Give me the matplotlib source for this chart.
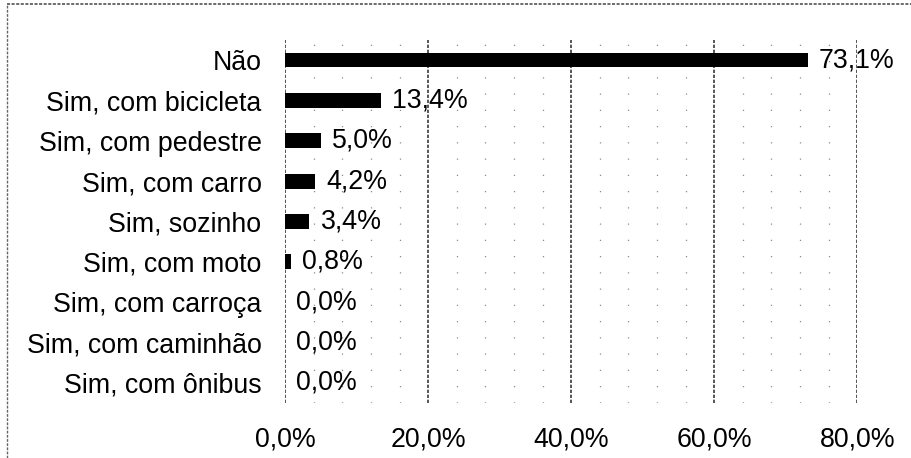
import matplotlib.pyplot as plt
from matplotlib.lines import Line2D

categorias = ['Não', 'Sim, com bicicleta', 'Sim, com pedestre', 'Sim, com carro',
              'Sim, sozinho', 'Sim, com moto', 'Sim, com carroça',
              'Sim, com caminhão', 'Sim, com ônibus']
valores = [73.1, 13.4, 5.0, 4.2, 3.4, 0.8, 0.0, 0.0, 0.0]
ticks_x = [0, 20, 40, 60, 80]

plt.rcParams['font.family'] = ['Liberation Sans', 'DejaVu Sans']

fig = plt.figure(figsize=(9.11, 4.58), dpi=100)
ax = fig.add_axes([0.313, 0.120, 0.628, 0.793])

y = list(range(len(categorias)))
ax.barh(y, valores, height=0.37, color='black', zorder=3)

for yi, v in zip(y, valores):
    ax.annotate(f'{v:.1f}%'.replace('.', ','), (v, yi), xytext=(8, 0),
                textcoords='offset points', ha='left', va='center',
                fontsize=19.3, zorder=4)

ax.set_xlim(0, 80)
ax.set_ylim(len(categorias) - 0.5, -0.5)
ax.set_yticks(y)
ax.set_yticklabels(categorias, fontsize=19.3)
ax.set_xticks(ticks_x)
ax.set_xticklabels([f'{t:.1f}%'.replace('.', ',') for t in ticks_x], fontsize=19.3)
ax.tick_params(axis='both', length=0)
ax.tick_params(axis='y', pad=17)
ax.tick_params(axis='x', pad=17)

for s in ax.spines.values():
    s.set_visible(False)

# linhas de grade principais e secundárias
for t in ticks_x:
    ax.axvline(t, color='#3a3a3a', lw=1.2, ls=(0, (2, 1)), zorder=1)
for t in range(4, 80, 4):
    if t % 20:
        ax.axvline(t, color='#8a8a8a', lw=0.9, ls=(0, (1, 12)), zorder=1)

# moldura (topo e esquerda)
fig.add_artist(Line2D([7 / 911, 1], [1 - 4 / 458, 1 - 4 / 458],
                      transform=fig.transFigure, color='#444444', lw=1.1, ls=(0, (2, 1))))
fig.add_artist(Line2D([7 / 911, 7 / 911], [0, 1 - 4 / 458],
                      transform=fig.transFigure, color='#666666', lw=1, ls=(0, (2, 1))))

fig.savefig('out.png', dpi=100)
